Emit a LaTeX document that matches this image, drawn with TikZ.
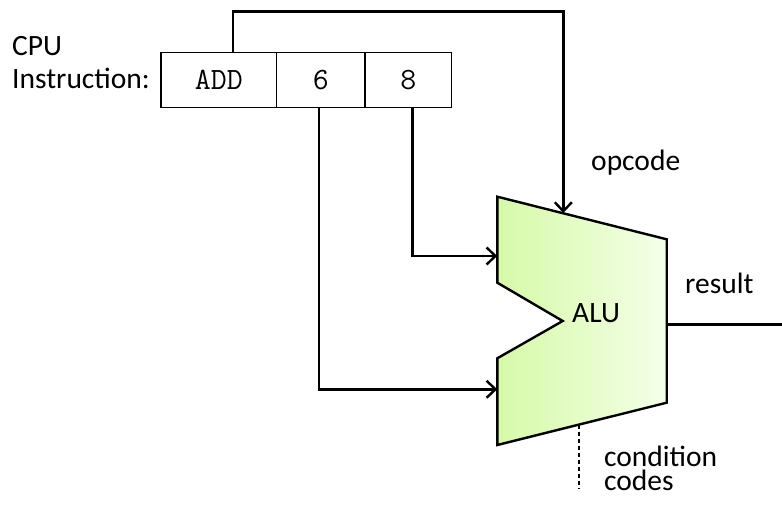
\documentclass[tikz,border=0pt]{standalone}
\usepackage{fontspec}
\setmainfont{Carlito}
\usetikzlibrary{positioning,arrows.meta}

\definecolor{aluleft}{RGB}{214,250,168}
\definecolor{aluright}{RGB}{244,255,232}

\tikzset{
  field/.style={draw, line width=1.4pt, inner sep=0pt, outer sep=0pt,
    minimum height=54.6pt, font=\ttfamily\fontsize{31}{31}\selectfont},
  wire/.style={line width=2.6pt, -{Straight Barb[length=9pt,width=17pt,line width=2.4pt]}},
  plainwire/.style={line width=2.6pt},
  lbl/.style={anchor=base west, inner sep=0pt, font=\fontsize{29.5}{33}\selectfont}
}

\begin{document}
\begin{tikzpicture}[x=1pt,y=-1pt]
    \useasboundingbox (0,0) rectangle (782,505);

    % === INSTRUCTION FIELDS ===
    \node[field, minimum width=115.7pt] (add) at (218.85,80) {ADD};
    \node[field, minimum width=88.3pt, right=0pt of add] (six) {6};
    \node[field, minimum width=86.7pt, right=0pt of six] (eight) {8};

    \node[lbl] (cpu) at (12,56) {CPU};
    \node[lbl] (instr) at (12,89) {Instruction:};

    % === ALU ===
    \coordinate (tl)  at (497.3,196.7);
    \coordinate (tr)  at (666.7,239.3);
    \coordinate (br)  at (666.7,402.7);
    \coordinate (bl)  at (497.3,445);
    \coordinate (n1)  at (497.3,282.7);
    \coordinate (tip) at (562.7,321);
    \coordinate (n2)  at (497.3,358.3);
    \path[draw, line width=2.4pt, line join=miter, left color=aluleft, right color=aluright]
        (tl) -- (tr) -- (br) -- (bl) -- (n2) -- (tip) -- (n1) -- cycle;
    \node[lbl] (alu) at (572,322) {ALU};

    % ports
    \coordinate (ina)   at (497.3,256);
    \coordinate (inb)   at (497.3,389.3);
    \coordinate (opin)  at (563.3,213);
    \coordinate (optop) at (563.3,11.7);
    \coordinate (out)   at (666.7,324.3);
    \coordinate (res)   at (782,324.3);
    \coordinate (cc)    at (579,424.6);
    \coordinate (ccend) at (579,489);

    % === CONNECTORS ===
    \draw[wire] ([xshift=14pt]add.north) |- (optop) -- (opin);
    \draw[wire] ([xshift=4pt]eight.south) |- (ina);
    \draw[wire] ([xshift=-2pt]six.south) |- (inb);
    \draw[plainwire] (out) -- (res);
    \draw[line width=1.4pt, dash pattern=on 4.5pt off 2.5pt] (cc) -- (ccend);

    % === LABELS ===
    \node[lbl] (opcode) at (591,170.7) {opcode};
    \node[lbl] (result) at (685,294) {result};
    \node[lbl, align=left] (cond) at (604,490) {condition\\[-9pt]codes};

\end{tikzpicture}
\end{document}
